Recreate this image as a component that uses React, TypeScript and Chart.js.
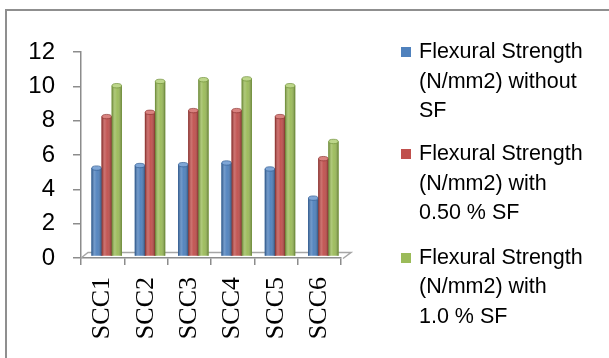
import { useEffect, useRef } from "react";
import { Chart, registerables } from "chart.js";

Chart.register(...registerables);

// Mixes and their flexural strength (N/mm2)
const categories = ["SCC1", "SCC2", "SCC3", "SCC4", "SCC5", "SCC6"];
const withoutSF = [5.15, 5.3, 5.35, 5.45, 5.1, 3.4];
const withHalfSF = [8.15, 8.4, 8.5, 8.5, 8.15, 5.7];
const withOneSF = [9.95, 10.2, 10.3, 10.35, 9.95, 6.7];

const seriesLabels = [
  ["Flexural Strength", "(N/mm2) without", "SF"],
  ["Flexural Strength", "(N/mm2) with", "0.50 % SF"],
  ["Flexural Strength", "(N/mm2) with", "1.0 % SF"],
];

const yMin = 0;
const yMax = 12;
const yStep = 2;

// face / highlight / edge shades for each cylinder series
const faceColors = ["#4F81BD", "#C0504D", "#9BBB59"];
const capColors = ["#7FA6D6", "#D98380", "#BDD68A"];
const edgeColors = ["#335E94", "#8E3532", "#70903A"];

const AXIS_GREY = "#8C8C8C";
const DEPTH_X = 4; // sideways shift of the bars into the floor
const DEPTH_Y = -1.5;

const cylinderPlugin = {
  id: "cylinders3d",
  beforeDatasetsDraw(chart: any) {
    const { ctx, chartArea } = chart;
    const { left, right, bottom } = chartArea;
    // floor of the plot
    ctx.save();
    ctx.strokeStyle = "#A6A6A6";
    ctx.lineWidth = 1.5;
    ctx.beginPath();
    ctx.moveTo(left, bottom);
    ctx.lineTo(left + 7, bottom - 5.5);
    ctx.lineTo(right + 10, bottom - 5.5);
    ctx.lineTo(right + 2, bottom + 0.5);
    ctx.stroke();
    ctx.restore();

    ctx.save();
    ctx.translate(DEPTH_X, DEPTH_Y);
  },
  afterDatasetsDraw(chart: any) {
    const { ctx } = chart;
    chart.data.datasets.forEach((_ds: any, di: number) => {
      const meta = chart.getDatasetMeta(di);
      meta.data.forEach((el: any) => {
        const { x, y, base, width } = el.getProps(["x", "y", "base", "width"], true);
        const l = x - width / 2;
        const h = base - y;
        const g = ctx.createLinearGradient(l, 0, l + width, 0);
        g.addColorStop(0, "rgba(0,0,0,0.25)");
        g.addColorStop(0.3, "rgba(255,255,255,0.2)");
        g.addColorStop(0.55, "rgba(255,255,255,0.04)");
        g.addColorStop(1, "rgba(0,0,0,0.3)");
        ctx.fillStyle = g;
        ctx.fillRect(l, y, width, h);
        ctx.strokeStyle = edgeColors[di];
        ctx.lineWidth = 0.7;
        ctx.beginPath();
        ctx.moveTo(l + 0.35, y);
        ctx.lineTo(l + 0.35, base);
        ctx.moveTo(l + width - 0.35, y);
        ctx.lineTo(l + width - 0.35, base);
        ctx.stroke();
        // top cap
        ctx.beginPath();
        ctx.ellipse(x, y, width / 2 - 0.3, 2.2, 0, 0, Math.PI * 2);
        ctx.fillStyle = capColors[di];
        ctx.fill();
        ctx.stroke();
      });
    });
    ctx.restore();
  },
};

export default function App() {
  const canvasRef = useRef<HTMLCanvasElement | null>(null);

  useEffect(() => {
    const canvas = canvasRef.current;
    if (!canvas) return;
    const data = [withoutSF, withHalfSF, withOneSF];
    const chart = new Chart(canvas, {
      type: "bar",
      data: {
        labels: categories,
        datasets: data.map((values, i) => ({
          label: seriesLabels[i].join(" "),
          data: values,
          backgroundColor: faceColors[i],
          borderWidth: 0,
          categoryPercentage: 0.7,
          barPercentage: 1,
        })),
      },
      options: {
        responsive: false,
        animation: false,
        devicePixelRatio: 1,
        layout: { padding: { left: 0, top: 52, right: 268, bottom: 0 } },
        plugins: {
          legend: { display: false },
          tooltip: { enabled: false },
        },
        scales: {
          x: {
            offset: true,
            grid: {
              offset: true,
              drawOnChartArea: false,
              drawTicks: true,
              tickLength: 7,
              color: AXIS_GREY,
              lineWidth: 1.5,
            },
            border: { display: true, color: AXIS_GREY, width: 1.5 },
            ticks: {
              autoSkip: false,
              minRotation: 90,
              maxRotation: 90,
              padding: 12,
              color: "#000",
              font: { family: "'Liberation Serif', 'Times New Roman', serif", size: 26 },
            },
            afterFit(scale: any) {
              scale.height = 100;
            },
          },
          y: {
            min: yMin,
            max: yMax,
            grid: {
              drawOnChartArea: false,
              drawTicks: true,
              tickLength: 8,
              color: AXIS_GREY,
              lineWidth: 1.5,
            },
            border: { display: true, color: AXIS_GREY, width: 1.5 },
            ticks: {
              stepSize: yStep,
              padding: 18,
              color: "#000",
              font: { family: "'Liberation Sans', Arial, sans-serif", size: 24 },
            },
            afterFit(scale: any) {
              scale.width = 81;
            },
          },
        },
      },
      plugins: [cylinderPlugin],
    });
    return () => chart.destroy();
  }, []);

  const itemTops = [37, 139, 242.5];

  return (
    <div
      style={{
        position: "absolute",
        left: 0,
        top: 0,
        width: 609,
        height: 358,
        background: "#fff",
        overflow: "hidden",
      }}
    >
      <div
        style={{
          position: "absolute",
          left: 5,
          top: 9,
          right: -4,
          bottom: -4,
          borderLeft: "2px solid #8F8F8F",
          borderTop: "2px solid #8F8F8F",
        }}
      />
      <canvas
        ref={canvasRef}
        width={609}
        height={358}
        style={{ position: "absolute", left: 0, top: 0, width: 609, height: 358 }}
      />
      {seriesLabels.map((lines, i) => (
        <div key={i}>
          <div
            style={{
              position: "absolute",
              left: 401,
              top: itemTops[i] + 10,
              width: 10,
              height: 10,
              background: faceColors[i],
            }}
          />
          <div
            style={{
              position: "absolute",
              left: 419,
              top: itemTops[i],
              fontFamily: "'Liberation Sans', Arial, sans-serif",
              fontSize: 21.5,
              lineHeight: "29.5px",
              color: "#000",
              whiteSpace: "nowrap",
            }}
          >
            {lines.map((t, j) => (
              <div key={j}>{t}</div>
            ))}
          </div>
        </div>
      ))}
    </div>
  );
}
